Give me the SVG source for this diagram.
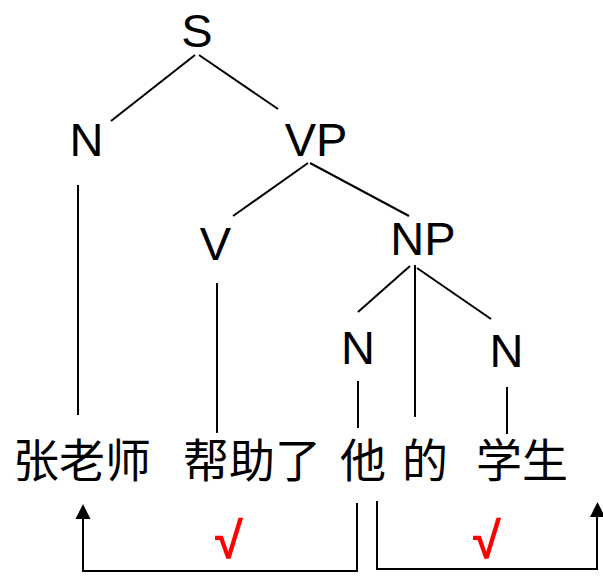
<svg xmlns="http://www.w3.org/2000/svg" width="603" height="584" viewBox="0 0 603 584">
<defs>
<style>
.lbl{font-family:"Liberation Sans",Arial,sans-serif;font-size:47px;fill:#000;text-anchor:middle}
.hz{font-family:"Noto Sans CJK SC","Noto Sans CJK JP",sans-serif;font-size:46px;fill:#000}
.chk{font-family:"Liberation Sans",Arial,sans-serif;font-size:51px;fill:#ff0000;font-weight:bold}
.ln{stroke:#000;stroke-width:2;fill:none}
</style>
</defs>
<rect width="603" height="584" fill="#fff"/>
<g id="connectors">
<line class="ln" x1="195" y1="55" x2="111" y2="121"/>
<line class="ln" x1="199" y1="55" x2="278" y2="109"/>
<line class="ln" x1="308" y1="163" x2="233" y2="216"/>
<line class="ln" x1="310" y1="163" x2="409" y2="216"/>
<line class="ln" x1="410" y1="266" x2="358" y2="312"/>
<line class="ln" x1="415" y1="265" x2="415" y2="417"/>
<line class="ln" x1="417" y1="268" x2="491" y2="319"/>
<line class="ln" x1="78" y1="185" x2="78" y2="415"/>
<line class="ln" x1="217" y1="283" x2="217" y2="433"/>
<line class="ln" x1="358" y1="381" x2="358" y2="428"/>
<line class="ln" x1="507" y1="387" x2="507" y2="434"/>
<path class="ln" d="M357,503 V571 H83 V518"/>
<path d="M75.5,519 L83,504 L90.5,519 Z" fill="#000"/>
<path class="ln" d="M377,501 V569 H597 V516"/>
<path d="M590,517 L597.5,502 L605,517 Z" fill="#000"/>
</g>
<g id="node-S"><text class="lbl" x="197" y="47">S</text></g>
<g id="node-N1"><text class="lbl" x="86.5" y="156">N</text></g>
<g id="node-VP"><text class="lbl" x="316" y="156">VP</text></g>
<g id="node-V"><text class="lbl" x="215.5" y="260">V</text></g>
<g id="node-NP"><text class="lbl" x="423" y="255">NP</text></g>
<g id="node-N2"><text class="lbl" x="358" y="364">N</text></g>
<g id="node-N3"><text class="lbl" x="506.5" y="367">N</text></g>
<g id="words">
<text class="hz" x="13" y="477">张老师</text>
<text class="hz" x="183" y="477">帮助了</text>
<text class="hz" x="340" y="477">他</text>
<text class="hz" x="402" y="477">的</text>
<text class="hz" x="476" y="477">学生</text>
</g>
<g id="checks">
<text class="chk" x="215" y="558">√</text>
<text class="chk" x="473" y="558">√</text>
</g>
</svg>
